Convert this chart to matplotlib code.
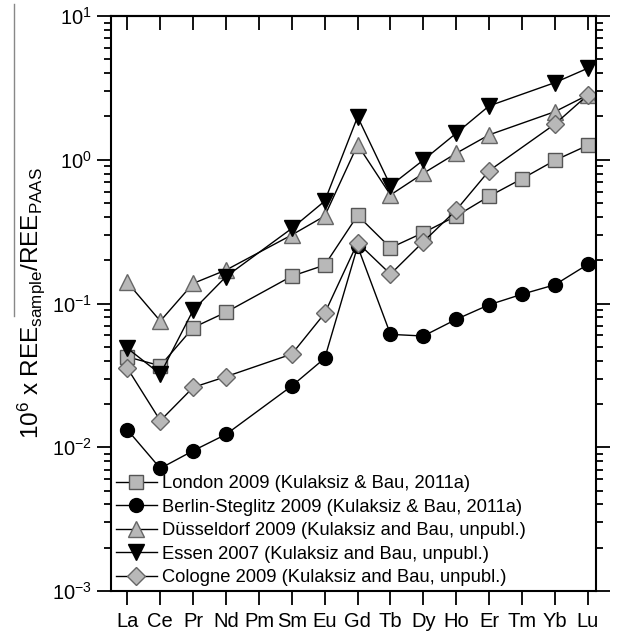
import numpy as np
import matplotlib
matplotlib.use('Agg')
import matplotlib.pyplot as plt
from matplotlib.lines import Line2D

plt.rcParams['font.family'] = ['Liberation Sans', 'DejaVu Sans']
plt.rcParams['mathtext.default'] = 'regular'

elements = ['La', 'Ce', 'Pr', 'Nd', 'Pm', 'Sm', 'Eu', 'Gd', 'Tb', 'Dy', 'Ho', 'Er', 'Tm', 'Yb', 'Lu']

# normalised values, None = not measured
london = [0.0425, 0.0369, 0.068, 0.087, None, 0.155, 0.185, 0.41, 0.244, 0.311, 0.406, 0.557, 0.738, 0.99, 1.26]
berlin = [0.0132, 0.00713, 0.00946, 0.0123, None, 0.0267, 0.0416, 0.25, 0.061, 0.0594, 0.0776, 0.098, 0.116, 0.135, 0.187]
duesseldorf = [0.14, 0.0755, 0.138, 0.171, None, 0.30, 0.406, 1.27, 0.569, 0.805, 1.11, 1.49, None, 2.16, 2.82]
essen = [0.0488, 0.0323, 0.090, 0.154, None, 0.333, 0.516, 1.99, 0.66, 0.995, 1.53, 2.37, None, 3.44, 4.33]
cologne = [0.0354, 0.0153, 0.0261, 0.031, None, 0.0445, 0.0855, 0.265, 0.16, 0.269, 0.447, 0.839, None, 1.77, 2.82]

labels = ['London 2009 (Kulaksiz & Bau, 2011a)',
          'Berlin-Steglitz 2009 (Kulaksiz & Bau, 2011a)',
          'Düsseldorf 2009 (Kulaksiz and Bau, unpubl.)',
          'Essen 2007 (Kulaksiz and Bau, unpubl.)',
          'Cologne 2009 (Kulaksiz and Bau, unpubl.)']

grey = '#b8b8b8'
styles = [
    dict(marker='s', mfc=grey, mec='#555555', ms=9.5),
    dict(marker='o', mfc='black', mec='black', ms=10),
    dict(marker='^', mfc=grey, mec='#666666', ms=11.5),
    dict(marker='v', mfc='black', mec='black', ms=11.5),
    dict(marker='D', mfc=grey, mec='#666666', ms=9),
]

fig = plt.figure(figsize=(6.24, 6.31), dpi=100)
ax = fig.add_axes([111 / 624, 40 / 631, 485 / 624, 575 / 631])

x = np.arange(1, len(elements) + 1)
for series, lab, st in zip([london, berlin, duesseldorf, essen, cologne], labels, styles):
    xs = [xi for xi, v in zip(x, series) if v is not None]
    ys = [v for v in series if v is not None]
    ax.plot(xs, ys, color='black', lw=1.0, mew=1.0, label=lab, **st)

ax.set_yscale('log')
ax.set_ylim(1e-3, 1e1)
ax.set_xlim(0.5, 15.25)
ax.set_xticks(x)
ax.set_xticklabels(elements, fontsize=14.5)
ax.set_yticks([1e-3, 1e-2, 1e-1, 1e0, 1e1])
ax.set_yticklabels(['$10^{-3}$', '$10^{-2}$', '$10^{-1}$', '$10^{0}$', '$10^{1}$'], fontsize=14.5)

for s in ax.spines.values():
    s.set_linewidth(1.5)

ax.tick_params(axis='x', direction='out', length=10, width=1.3, pad=5)
ax.tick_params(axis='y', which='major', direction='out', length=10, width=1.3, right=True)
ax.tick_params(axis='y', which='minor', direction='out', length=5, width=1.3, right=True)

top = ax.secondary_xaxis('top')
top.set_xticks(x)
top.tick_params(direction='in', length=10, width=1.3, labeltop=False)
top.spines['top'].set_linewidth(1.5)

ax.set_ylabel('$10^{6}$ x REE$_{sample}$/REE$_{PAAS}$', fontsize=17.5, labelpad=4)

ax.legend(loc='lower left', bbox_to_anchor=(0.0, 0.0), frameon=False, fontsize=13.2,
          handlelength=2.25, handletextpad=0.3, labelspacing=0.36, borderaxespad=0.05,
          borderpad=0.2)

fig.add_artist(Line2D([14 / 624, 14 / 624], [1 - 4 / 631, 1 - 316 / 631], color='#888888', lw=1))

fig.savefig('out.png', dpi=100)
